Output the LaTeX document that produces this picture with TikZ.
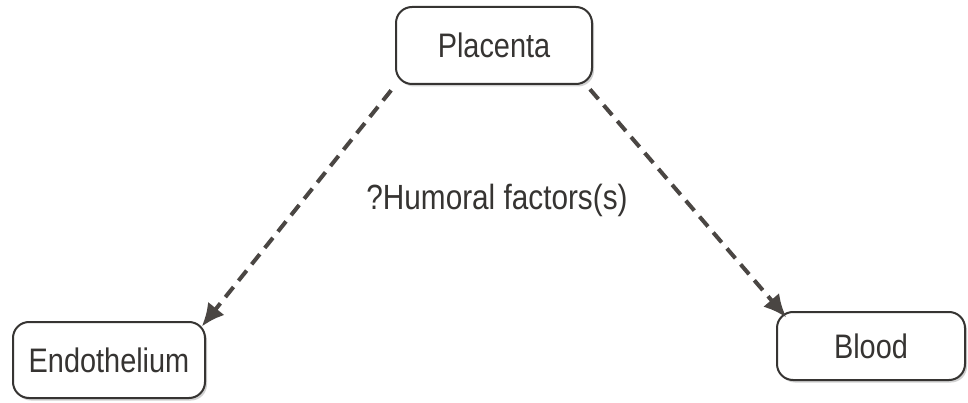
\documentclass[tikz,border=0pt]{standalone}
\usepackage{fontspec}
\setmainfont{Liberation Sans}[FakeStretch=0.85]
\usetikzlibrary{arrows.meta,shadows,calc}
\definecolor{ink}{HTML}{363432}
\definecolor{arr}{HTML}{4A4643}
\begin{document}
\begin{tikzpicture}[x=1pt,y=-1pt,
  box/.style={draw=ink, line width=2pt, rounded corners=16pt, fill=white,
    inner sep=0pt, text=ink, font=\fontsize{34}{40}\selectfont,
    drop shadow={shadow xshift=2pt, shadow yshift=-2.5pt, fill=black!30, opacity=0.6}},
  link/.style={draw=arr, line width=4pt, dash pattern=on 13pt off 8pt,
    -{Latex[length=23pt,width=21pt]}},
  lbl/.style={text=ink, font=\fontsize{35}{40}\selectfont, inner sep=0pt}]
\useasboundingbox (0,0) rectangle (968,403);
\node[box, minimum width=196pt, minimum height=77pt] (plac) at (494,45.5) {Placenta};
\node[box, minimum width=192pt, minimum height=76pt] (endo) at (109,360) {Endothelium};
\node[box, minimum width=188pt, minimum height=68pt] (blood) at (871,346) {Blood};
\node[lbl] (hum) at (497,200) {?Humoral factors(s)};
\draw[link, shorten <=3pt, shorten >=-2pt] ($(plac.south west)+(-2,3)$) -- ($(endo.north east)+(-3,4)$);
\draw[link, shorten <=3pt, shorten >=-2pt] ($(plac.south east)+(-5,2)$) -- ($(blood.north west)+(9,5)$);
\end{tikzpicture}
\end{document}
